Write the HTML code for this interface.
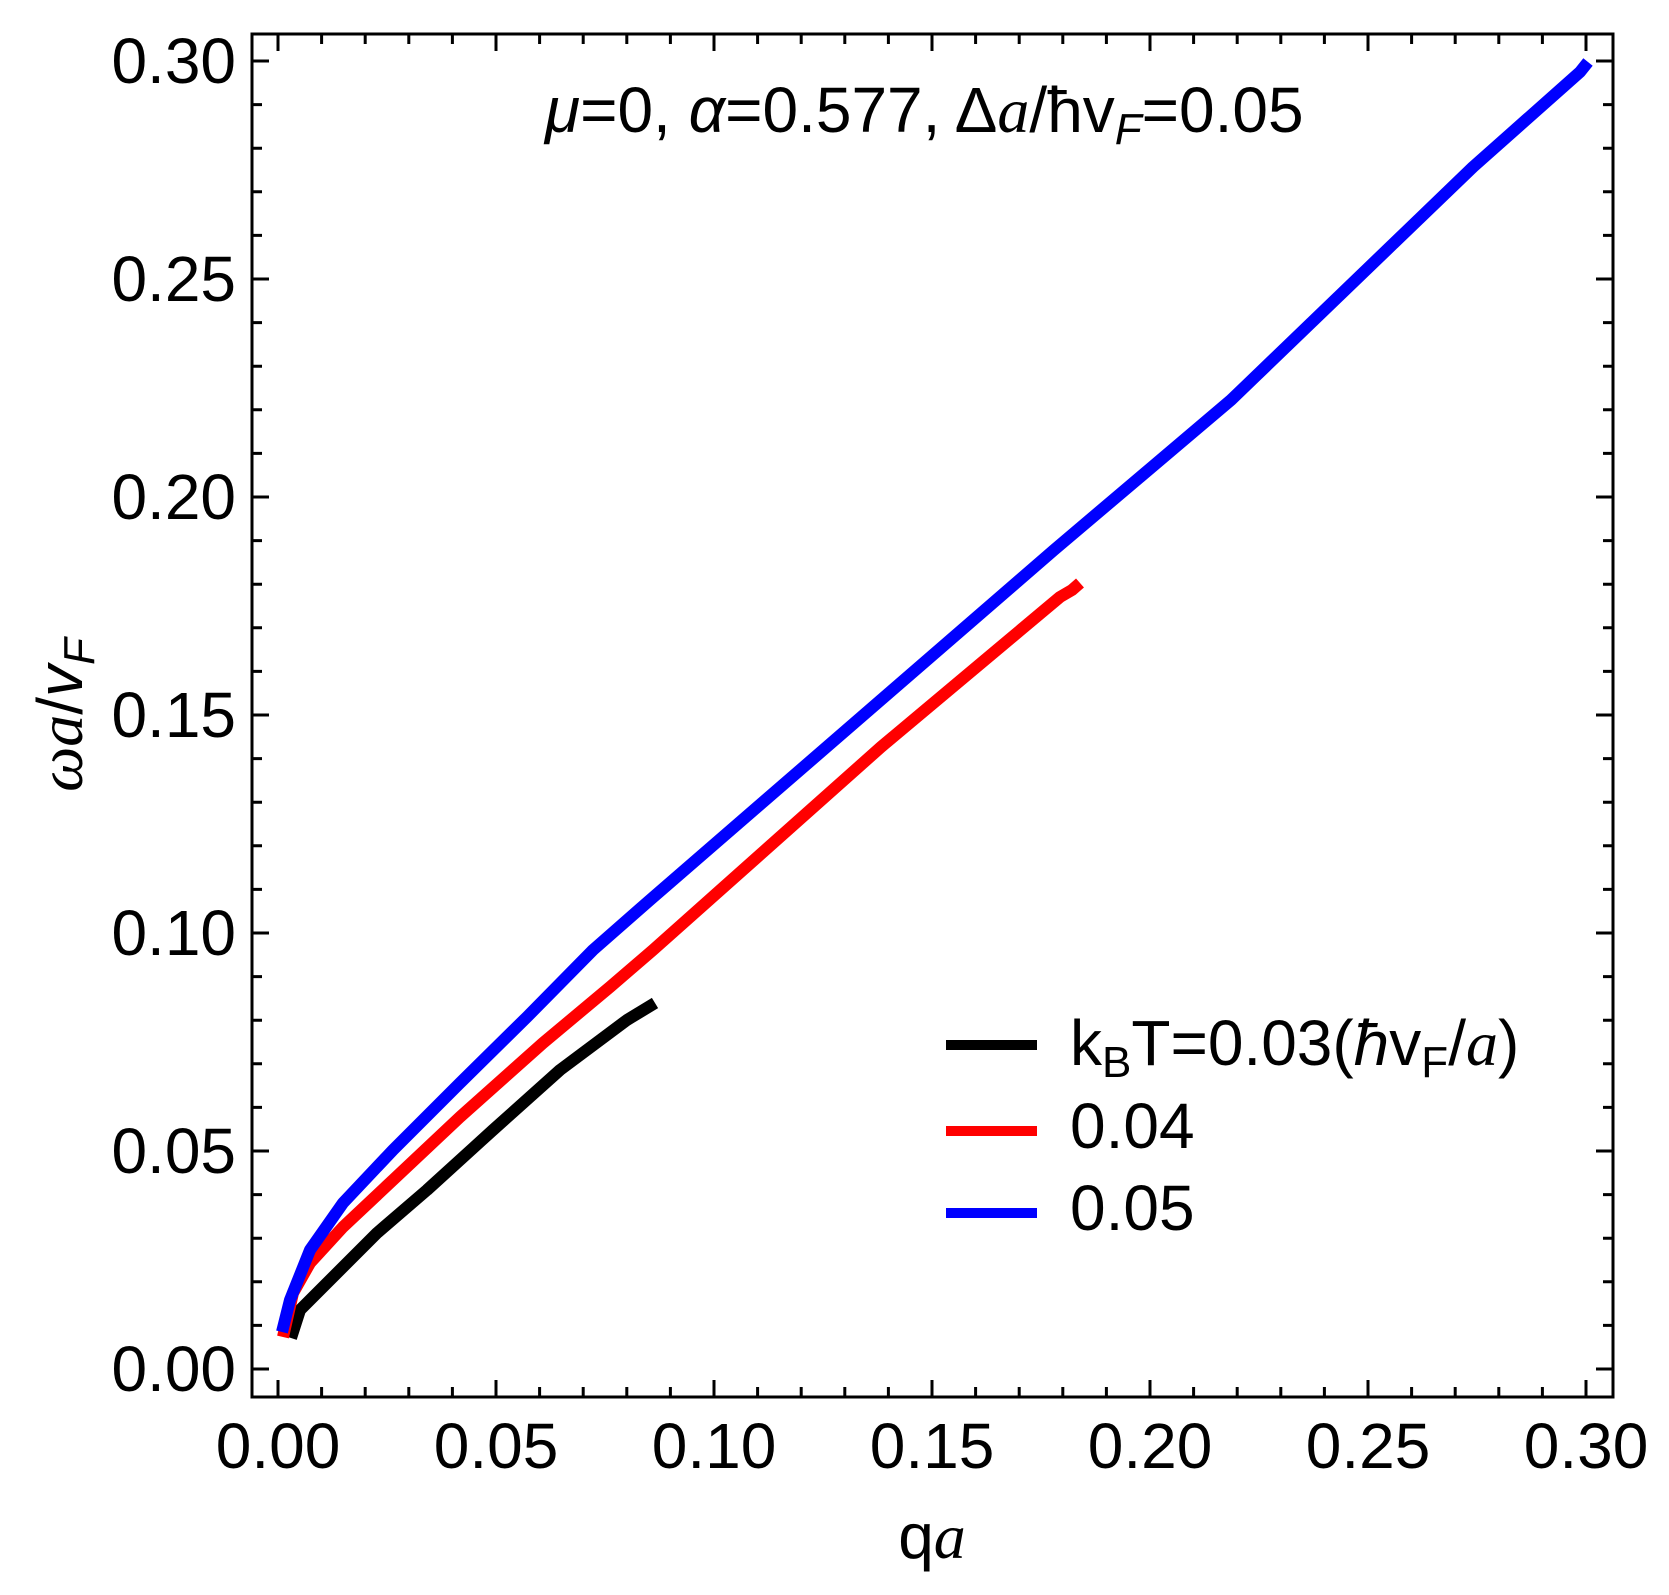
<!DOCTYPE html>
<html><head><meta charset="utf-8"><style>
html,body{margin:0;padding:0;background:#fff}
svg{display:block}
text{font-family:"Liberation Sans",sans-serif;font-size:64px;fill:#000}
.i{font-style:italic}
.s{font-family:"Liberation Serif",serif;font-style:italic}
</style></head><body>
<svg width="1669" height="1595" viewBox="0 0 1669 1595" xmlns="http://www.w3.org/2000/svg">
<rect x="252" y="34" width="1361" height="1363" fill="none" stroke="#000" stroke-width="3"/>
<g stroke="#000" stroke-width="3" id="ticks">
<!-- x major -->
<path d="M278 1397v-17M496 1397v-17M714 1397v-17M932 1397v-17M1150 1397v-17M1368 1397v-17M1586 1397v-17
M278 34v17M496 34v17M714 34v17M932 34v17M1150 34v17M1368 34v17M1586 34v17"/>
<path d="M321.6 1397v-10M365.2 1397v-10M408.8 1397v-10M452.4 1397v-10M539.6 1397v-10M583.2 1397v-10M626.8 1397v-10M670.4 1397v-10M757.6 1397v-10M801.2 1397v-10M844.8 1397v-10M888.4 1397v-10M975.6 1397v-10M1019.2 1397v-10M1062.8 1397v-10M1106.4 1397v-10M1193.6 1397v-10M1237.2 1397v-10M1280.8 1397v-10M1324.4 1397v-10M1411.6 1397v-10M1455.2 1397v-10M1498.8 1397v-10M1542.4 1397v-10
M321.6 34v10M365.2 34v10M408.8 34v10M452.4 34v10M539.6 34v10M583.2 34v10M626.8 34v10M670.4 34v10M757.6 34v10M801.2 34v10M844.8 34v10M888.4 34v10M975.6 34v10M1019.2 34v10M1062.8 34v10M1106.4 34v10M1193.6 34v10M1237.2 34v10M1280.8 34v10M1324.4 34v10M1411.6 34v10M1455.2 34v10M1498.8 34v10M1542.4 34v10"/>
<!-- y major -->
<path d="M252 1369h17M252 1151h17M252 933h17M252 715h17M252 497h17M252 279h17M252 61h17
M1613 1369h-17M1613 1151h-17M1613 933h-17M1613 715h-17M1613 497h-17M1613 279h-17M1613 61h-17"/>
<path d="M252 1325.4h10M252 1281.8h10M252 1238.2h10M252 1194.6h10M252 1107.4h10M252 1063.8h10M252 1020.2h10M252 976.6h10M252 889.4h10M252 845.8h10M252 802.2h10M252 758.6h10M252 671.4h10M252 627.8h10M252 584.2h10M252 540.6h10M252 453.4h10M252 409.8h10M252 366.2h10M252 322.6h10M252 235.4h10M252 191.8h10M252 148.2h10M252 104.6h10
M1613 1325.4h-10M1613 1281.8h-10M1613 1238.2h-10M1613 1194.6h-10M1613 1107.4h-10M1613 1063.8h-10M1613 1020.2h-10M1613 976.6h-10M1613 889.4h-10M1613 845.8h-10M1613 802.2h-10M1613 758.6h-10M1613 671.4h-10M1613 627.8h-10M1613 584.2h-10M1613 540.6h-10M1613 453.4h-10M1613 409.8h-10M1613 366.2h-10M1613 322.6h-10M1613 235.4h-10M1613 191.8h-10M1613 148.2h-10M1613 104.6h-10"/>
</g>
<g text-anchor="end">
<text x="236" y="1391">0.00</text>
<text x="236" y="1173">0.05</text>
<text x="236" y="955">0.10</text>
<text x="236" y="737">0.15</text>
<text x="236" y="519">0.20</text>
<text x="236" y="301">0.25</text>
<text x="236" y="83">0.30</text>
</g>
<g text-anchor="middle">
<text x="278" y="1468">0.00</text>
<text x="496" y="1468">0.05</text>
<text x="714" y="1468">0.10</text>
<text x="932" y="1468">0.15</text>
<text x="1150" y="1468">0.20</text>
<text x="1368" y="1468">0.25</text>
<text x="1586" y="1468">0.30</text>
<text x="932" y="1558">q<tspan class="s">a</tspan></text>
</g>
<text transform="translate(82,715) rotate(-90)" text-anchor="middle"><tspan class="s">ωa</tspan>/<tspan class="i">v</tspan><tspan class="i" font-size="44" dy="12">F</tspan></text>
<text x="545" y="132" font-size="63"><tspan class="i">μ</tspan>=0, <tspan class="i">α</tspan>=0.577, Δ<tspan class="s">a</tspan>/ħv<tspan class="i" font-size="44" dy="12">F</tspan><tspan dy="-12">=0.05</tspan></text>
<g fill="none" stroke-width="12" stroke-linejoin="round" stroke-linecap="butt">
<polyline stroke="#000" points="291,1338 300,1310 327,1283 377,1233 427,1190 493,1130 560,1070 627,1020 655,1003"/>
<polyline stroke="#f00" points="283,1337 293,1293 310,1263 343,1227 393,1180 460,1117 543,1043 610,987 653,950 881,747 1060,597 1072,590 1080,583"/>
<polyline stroke="#00f" points="282,1332 290,1300 310,1250 343,1203 393,1150 460,1083 527,1017 593,950 650,900 1054,550 1231,400 1473,167 1580,72 1588,62"/>
</g>
<g stroke-width="10">
<line x1="946" y1="1045" x2="1037" y2="1045" stroke="#000"/>
<line x1="946" y1="1131" x2="1037" y2="1131" stroke="#f00"/>
<line x1="946" y1="1213" x2="1037" y2="1213" stroke="#00f"/>
</g>
<text x="1070" y="1065">k<tspan font-size="44" dy="12">B</tspan><tspan dy="-12">T=0.03(</tspan><tspan class="i">ħ</tspan>v<tspan font-size="44" dy="12">F</tspan><tspan dy="-12">/</tspan><tspan class="s">a</tspan>)</text>
<text x="1070" y="1148">0.04</text>
<text x="1070" y="1230">0.05</text>
</svg>
</body></html>
